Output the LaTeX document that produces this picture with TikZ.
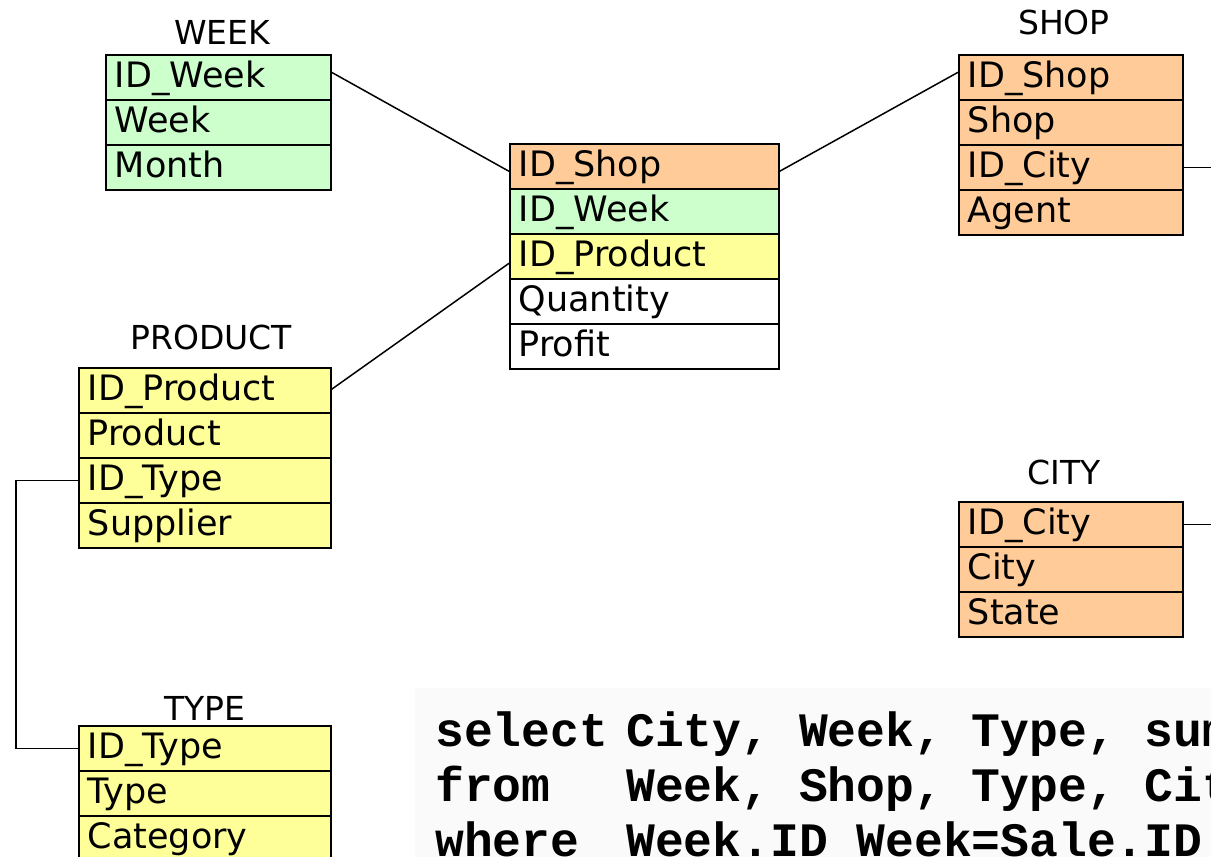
\documentclass[tikz,border=0pt]{standalone}
\usepackage{fontspec}
\setmainfont{DejaVu Sans}
\newfontfamily\sqlfont{Liberation Mono}
\definecolor{wk}{HTML}{CCFFCC}
\definecolor{sh}{HTML}{FFCC99}
\definecolor{pr}{HTML}{FFFF99}
\definecolor{sqlbg}{HTML}{FAFAFA}
\tikzset{
  row/.style={draw=black, line width=1.6pt, rectangle, anchor=north west,
    minimum height=45pt, inner xsep=9pt, inner ysep=0pt, align=left,
    text height=30pt, text depth=9pt,
    font=\fontsize{35}{40}\selectfont},
  tbltitle/.style={anchor=base, inner sep=0pt, font=\fontsize{33}{38}\selectfont},
  sqltxt/.style={anchor=base west, inner sep=0pt, font=\sqlfont\bfseries\fontsize{48}{55}\selectfont},
  link/.style={draw=black, line width=1.5pt}
}
\newcommand{\trow}[6]{\node[row, fill=#1, text width=#2-18pt] (#3) at (#4,#5) {#6};}
\begin{document}
\begin{tikzpicture}[x=1pt,y=-1pt]
\useasboundingbox (0,0) rectangle (1211,857);
\clip (0,0) rectangle (1211,857);
\fill[white] (0,0) rectangle (1211,857);
% SQL background
\fill[sqlbg] (415,688) rectangle (1230,880);

% WEEK
\node[tbltitle] (tweek) at (222,44) {WEEK};
\trow{wk}{225pt}{w1}{105}{54}{ID\_Week}
\trow{wk}{225pt}{w2}{105}{99}{Week}
\trow{wk}{225pt}{w3}{105}{144}{Month}

% FACT
\trow{sh}{269pt}{f1}{509}{143}{ID\_Shop}
\trow{wk}{269pt}{f2}{509}{188}{ID\_Week}
\trow{pr}{269pt}{f3}{509}{233}{ID\_Product}
\trow{white}{269pt}{f4}{509}{278}{Quantity}
\trow{white}{269pt}{f5}{509}{323}{Profit}

% SHOP
\node[tbltitle] (tshop) at (1064,34) {SHOP};
\trow{sh}{224pt}{s1}{958}{54}{ID\_Shop}
\trow{sh}{224pt}{s2}{958}{99}{Shop}
\trow{sh}{224pt}{s3}{958}{144}{ID\_City}
\trow{sh}{224pt}{s4}{958}{189}{Agent}

% PRODUCT
\node[tbltitle] (tprod) at (211,349) {PRODUCT};
\trow{pr}{252pt}{p1}{78}{367}{ID\_Product}
\trow{pr}{252pt}{p2}{78}{412}{Product}
\trow{pr}{252pt}{p3}{78}{457}{ID\_Type}
\trow{pr}{252pt}{p4}{78}{502}{Supplier}

% TYPE
\node[tbltitle] (ttype) at (205,720) {TYPE};
\trow{pr}{252pt}{t1}{78}{725}{ID\_Type}
\trow{pr}{252pt}{t2}{78}{770}{Type}
\trow{pr}{252pt}{t3}{78}{815}{Category}

% CITY
\node[tbltitle] (tcity) at (1064,484) {CITY};
\trow{sh}{224pt}{c1}{958}{501}{ID\_City}
\trow{sh}{224pt}{c2}{958}{546}{City}
\trow{sh}{224pt}{c3}{958}{591}{State}

% connectors
\coordinate (outx) at (1230,0);
\draw[link] ([yshift=5pt]w1.east) -- ([yshift=-5pt]f1.west);
\draw[link] ([yshift=-5pt]f1.east) -- ([yshift=5pt]s1.west);
\draw[link] ([yshift=1pt]p1.east) -- ([yshift=-7pt]f3.west);
\draw[link] (p3.west) -- ++(-62,0) |- (t1.west);
\draw[link] (s3.east) -- (s3.east -| outx);
\draw[link] (c1.east) -- (c1.east -| outx);

% SQL
\node[sqltxt] (k1) at (435,746) {select};
\node[sqltxt] (k2) at (435,801) {from};
\node[sqltxt] (k3) at (435,856) {where};
\node[sqltxt] (v1) at (626,746) {City, Week, Type, sum};
\node[sqltxt] (v2) at (626,801) {Week, Shop, Type, City};
\node[sqltxt] (v3) at (626,856) {Week.ID\_Week=Sale.ID};
\end{tikzpicture}
\end{document}
